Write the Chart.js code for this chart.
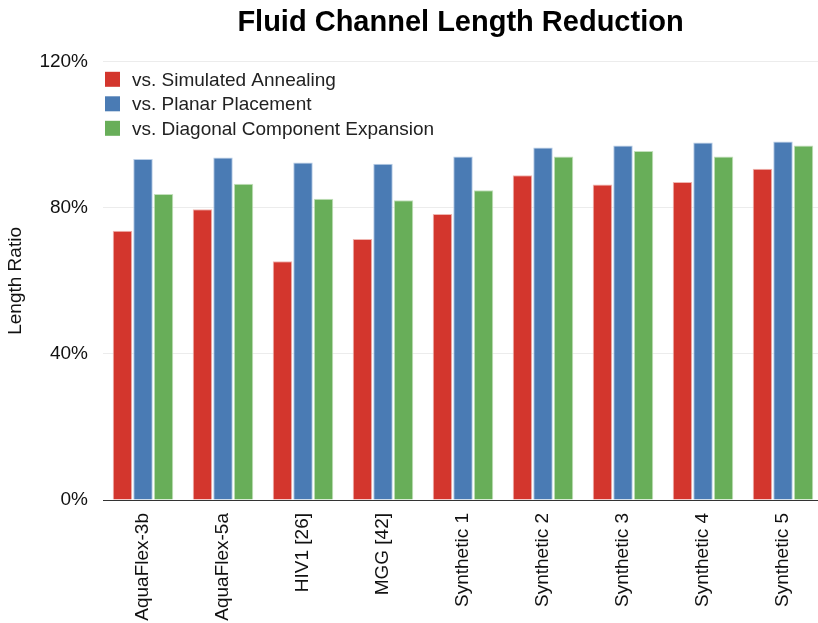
<!DOCTYPE html>
<html>
<head>
<meta charset="utf-8">
<script src="https://cdn.jsdelivr.net/npm/chart.js@4"></script>
<style>
  body { margin: 0; background: #fff; }
  #wrap { width: 818px; height: 623px; }
</style>
</head>
<body>
<div id="wrap"><canvas id="lengthChart" width="818" height="623"></canvas></div>
<script>
// --- Datos del gráfico ---
const categories = ['AquaFlex-3b', 'AquaFlex-5a', 'HIV1 [26]', 'MGG [42]', 'Synthetic 1', 'Synthetic 2', 'Synthetic 3', 'Synthetic 4', 'Synthetic 5'];
const seriesNames = ['vs. Simulated Annealing', 'vs. Planar Placement', 'vs. Diagonal Component Expansion'];
const annealing = [73.7, 79.6, 65.4, 71.5, 78.3, 88.9, 86.4, 87.1, 90.7];
const planar = [93.4, 93.8, 92.4, 92.1, 94.1, 96.5, 97.1, 97.9, 98.2];
const diagonal = [83.8, 86.6, 82.5, 82.1, 84.8, 94.1, 95.6, 94.1, 97.1];
const yTicks = [0, 40, 80, 120];

const FONT = "'Liberation Sans', Arial, Helvetica, sans-serif";

// leyenda dibujada dentro del área del gráfico (arriba a la izquierda)
const insideLegend = {
    id: 'insideLegend',
    afterDatasetsDraw(chart) {
        const ctx = chart.ctx;
        const area = chart.chartArea;
        ctx.save();
        ctx.font = '19px ' + FONT;
        ctx.textBaseline = 'middle';
        chart.data.datasets.forEach((ds, i) => {
            const cy = area.top + 17.5 + i * 24.5;
            ctx.fillStyle = ds.backgroundColor;
            ctx.fillRect(area.left + 2, cy - 7.5, 15, 15);
            ctx.fillStyle = '#222';
            ctx.fillText(ds.label, area.left + 29, cy + 1);
        });
        ctx.restore();
    }
};

// el área del gráfico sobrepasa un poco el borde derecho del lienzo
const widenArea = {
    id: 'widenArea',
    afterLayout(chart) {
        const extra = 5;
        const x = chart.scales.x;
        x.right += extra;
        x.width += extra;
        x.configure();
        chart.chartArea.right += extra;
        chart.chartArea.width += extra;
    }
};

const colors = ['#d3362d', '#4a7bb4', '#68ae59'];
const borders = ['#f0b5b0', '#b8cde6', '#c3e0bc'];

const ctx = document.getElementById('lengthChart').getContext('2d');
const lengthChart = new Chart(ctx, {
    type: 'bar',
    data: {
        labels: categories,
        datasets: [annealing, planar, diagonal].map((vals, i) => ({
            label: seriesNames[i],
            data: vals,
            backgroundColor: colors[i],
            borderColor: borders[i],
            borderWidth: 1,
            borderSkipped: 'start',
            categoryPercentage: 0.77,
            barPercentage: 0.95
        }))
    },
    options: {
        responsive: false,
        animation: false,
        devicePixelRatio: 1,
        layout: { padding: 0 },
        scales: {
            x: {
                grid: { display: false },
                border: { display: true, color: '#333', width: 1 },
                ticks: {
                    color: '#111',
                    font: { family: FONT, size: 19 },
                    minRotation: 90,
                    maxRotation: 90,
                    padding: 5,
                    autoSkip: false
                },
                afterFit(scale) { scale.height = 123; }
            },
            y: {
                min: 0,
                max: 120,
                afterBuildTicks(scale) { scale.ticks = yTicks.map(v => ({ value: v })); },
                grid: { color: '#ececec', drawTicks: false },
                border: { display: false },
                ticks: {
                    color: '#111',
                    font: { family: FONT, size: 19 },
                    padding: 15,
                    callback: function(value) { return value + '%'; }
                },
                title: {
                    display: true,
                    text: 'Length Ratio',
                    color: '#111',
                    font: { family: FONT, size: 19 },
                    padding: { top: 4, bottom: 0 }
                },
                afterFit(scale) { scale.width = 103; }
            }
        },
        plugins: {
            legend: { display: false },
            tooltip: { enabled: false },
            title: {
                display: true,
                text: 'Fluid Channel Length Reduction',
                color: '#000',
                fullSize: false,
                font: { family: FONT, size: 29, weight: 'bold' },
                padding: { top: 6, bottom: 21 }
            }
        }
    },
    plugins: [insideLegend, widenArea]
});
</script>
</body>
</html>
